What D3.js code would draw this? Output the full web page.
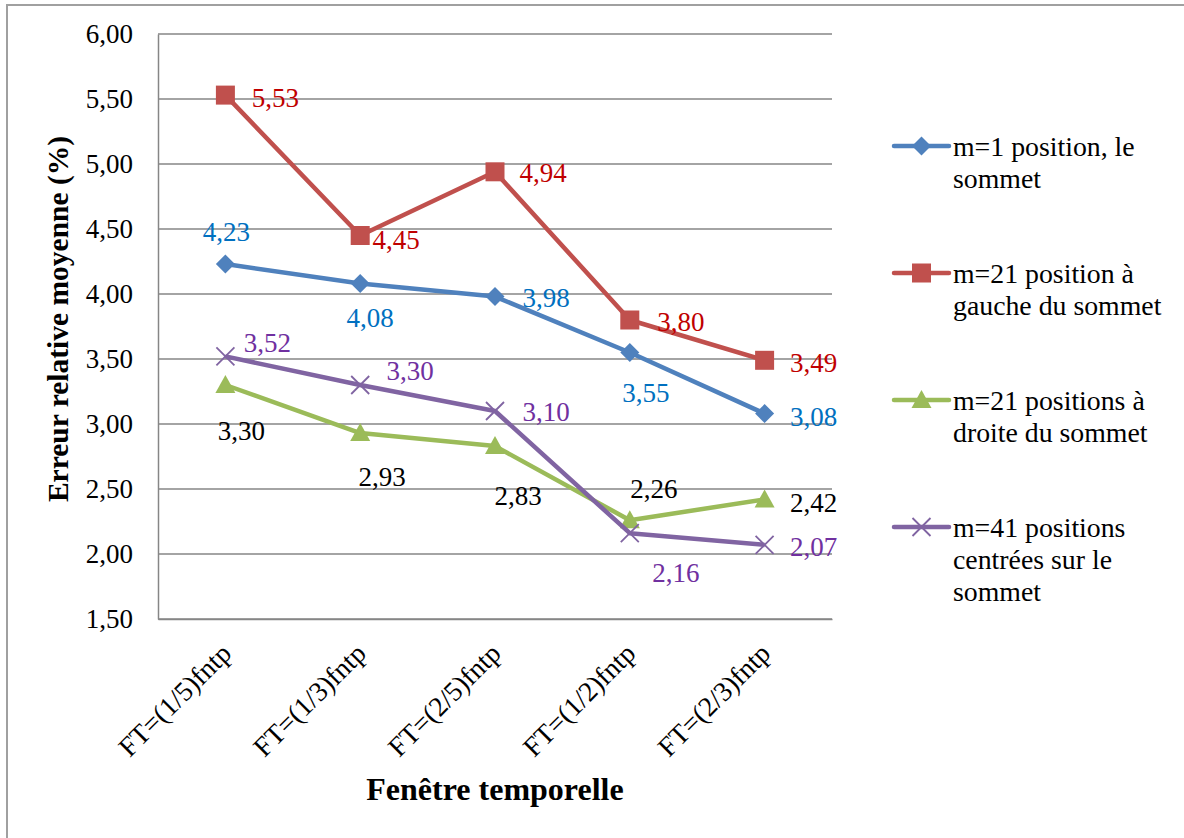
<!DOCTYPE html>
<html><head><meta charset="utf-8">
<script src="https://cdn.jsdelivr.net/npm/d3@7"></script>
<style>
html,body{margin:0;padding:0;background:#fff;}
svg text{font-family:'Liberation Serif','Times New Roman',serif;}
</style></head>
<body>
<script>
const categories = ["FT=(1/5)fntp","FT=(1/3)fntp","FT=(2/5)fntp","FT=(1/2)fntp","FT=(2/3)fntp"];
const seriesNames = [
  ["m=1 position, le","sommet"],
  ["m=21 position à","gauche du sommet"],
  ["m=21 positions à","droite du sommet"],
  ["m=41 positions","centrées sur le","sommet"]
];
const valuesM1 = [4.23, 4.08, 3.98, 3.55, 3.08];
const valuesM21G = [5.53, 4.45, 4.94, 3.80, 3.49];
const valuesM21D = [3.30, 2.93, 2.83, 2.26, 2.42];
const valuesM41 = [3.52, 3.30, 3.10, 2.16, 2.07];
const yTicks = [1.5, 2.0, 2.5, 3.0, 3.5, 4.0, 4.5, 5.0, 5.5, 6.0];

// label placement (offset of label centre from point), styling
const labelOffM1 = [[1,-33],[10,34],[51,1],[16,40],[49,3]];
const labelOffM21G = [[50,2],[36,4],[48,1],[51,2],[49,2]];
const labelOffM21D = [[16,46],[22,43],[23,49],[24,-32],[49,3]];
const labelOffM41 = [[42,-14],[50,-14],[51,1],[46,39],[49,2]];

const series = [
  {name: seriesNames[0], values: valuesM1, color: "#4F81BD", labelColor: "#0070C0", marker: "diamond", off: labelOffM1},
  {name: seriesNames[1], values: valuesM21G, color: "#C0504D", labelColor: "#C00000", marker: "square", off: labelOffM21G},
  {name: seriesNames[2], values: valuesM21D, color: "#9BBB59", labelColor: "#000000", marker: "triangle", off: labelOffM21D},
  {name: seriesNames[3], values: valuesM41, color: "#8064A2", labelColor: "#7030A0", marker: "x", off: labelOffM41}
];

const W = 1184, H = 838;
const plot = {left: 158, right: 832, top: 34, bottom: 619};
const fontSize = 27;
const FONT = "Liberation Serif, Times New Roman, serif";

const svg = d3.select("body").append("svg").attr("width", W).attr("height", H)
  .attr("font-family", FONT);

// outer border
svg.append("rect").attr("x", 7).attr("y", 5).attr("width", W + 20).attr("height", H + 20)
  .attr("fill", "#fff").attr("stroke", "#A0A0A0").attr("stroke-width", 2);

const x = d3.scalePoint().domain(categories).range([plot.left, plot.right]).padding(0.5);
const y = d3.scaleLinear().domain([1.5, 6]).range([plot.bottom, plot.top]);
const fmt = v => d3.format(".2f")(v).replace(".", ",");

// gridlines
svg.append("g").selectAll("line").data(yTicks).join("line")
  .attr("x1", plot.left).attr("x2", plot.right)
  .attr("y1", d => y(d)).attr("y2", d => y(d))
  .attr("stroke", "#868686").attr("stroke-width", 1.5);

// y axis
const yAxis = svg.append("g").attr("transform", `translate(${plot.left},0)`)
  .call(d3.axisLeft(y).tickValues(yTicks).tickFormat(fmt).tickSize(0).tickPadding(25));
yAxis.attr("font-family", FONT);
yAxis.select(".domain").attr("stroke", "#868686").attr("stroke-width", 1.5);
yAxis.selectAll("text").attr("font-size", fontSize).attr("fill", "#000").attr("font-family", FONT);

// x axis
const xAxis = svg.append("g").attr("transform", `translate(0,${plot.bottom})`)
  .call(d3.axisBottom(x).tickSize(0).tickFormat(""));
xAxis.attr("font-family", FONT);
xAxis.select(".domain").attr("stroke", "#868686").attr("stroke-width", 1.5);
xAxis.selectAll(".tick").append("text")
  .attr("text-anchor", "end")
  .attr("transform", "translate(7,36) rotate(-45)")
  .attr("font-size", 27.6).attr("fill", "#000").attr("font-family", FONT)
  .text(d => d);

// axis titles
svg.append("text").attr("x", (plot.left + plot.right) / 2).attr("y", 800)
  .attr("text-anchor", "middle").attr("font-weight", "bold").attr("font-size", 32)
  .attr("font-family", FONT).text("Fenêtre temporelle");
svg.append("text").attr("transform", "translate(68,319) rotate(-90)")
  .attr("text-anchor", "middle").attr("font-weight", "bold").attr("font-size", 29.5)
  .attr("font-family", FONT).text("Erreur relative moyenne (%)");

function drawMarker(g, type, color, cx, cy) {
  if (type === "diamond") {
    g.append("path").attr("d", `M${cx},${cy-9.5}L${cx+9.5},${cy}L${cx},${cy+9.5}L${cx-9.5},${cy}Z`).attr("fill", color);
  } else if (type === "square") {
    g.append("rect").attr("x", cx - 9.5).attr("y", cy - 9.5).attr("width", 19).attr("height", 19).attr("fill", color);
  } else if (type === "triangle") {
    g.append("path").attr("d", `M${cx},${cy-10}L${cx+10},${cy+8}L${cx-10},${cy+8}Z`).attr("fill", color);
  } else {
    g.append("path").attr("d", `M${cx-9},${cy-9}L${cx+9},${cy+9}M${cx-9},${cy+9}L${cx+9},${cy-9}`)
      .attr("stroke", color).attr("stroke-width", 1.8).attr("fill", "none");
  }
}

const line = d3.line().x((d, i) => x(categories[i])).y(d => y(d));

series.forEach(s => {
  const g = svg.append("g");
  g.append("path").datum(s.values).attr("d", line)
    .attr("fill", "none").attr("stroke", s.color).attr("stroke-width", 4.5).attr("stroke-linejoin", "round");
  s.values.forEach((v, i) => drawMarker(g, s.marker, s.color, x(categories[i]), y(v)));
});

// data labels
series.forEach(s => {
  svg.append("g").selectAll("text").data(s.values).join("text")
    .attr("x", (d, i) => x(categories[i]) + s.off[i][0])
    .attr("y", (d, i) => y(d) + s.off[i][1])
    .attr("dy", "0.35em").attr("text-anchor", "middle")
    .attr("font-size", fontSize).attr("fill", s.labelColor).attr("font-family", FONT)
    .text(fmt);
});

// legend
const legendY = [146, 273, 400, 527];
series.forEach((s, k) => {
  const g = svg.append("g");
  const ly = legendY[k];
  g.append("line").attr("x1", 894).attr("x2", 949).attr("y1", ly).attr("y2", ly)
    .attr("stroke", s.color).attr("stroke-width", 4.5).attr("stroke-linecap", "round");
  drawMarker(g, s.marker, s.color, 921.5, ly);
  const t = g.append("text").attr("x", 953).attr("y", ly + 10).attr("font-size", 27.8)
    .attr("fill", "#000").attr("font-family", FONT);
  s.name.forEach((ln, j) => t.append("tspan").attr("x", 953).attr("dy", j === 0 ? 0 : 32).text(ln));
});
</script>
</body></html>
